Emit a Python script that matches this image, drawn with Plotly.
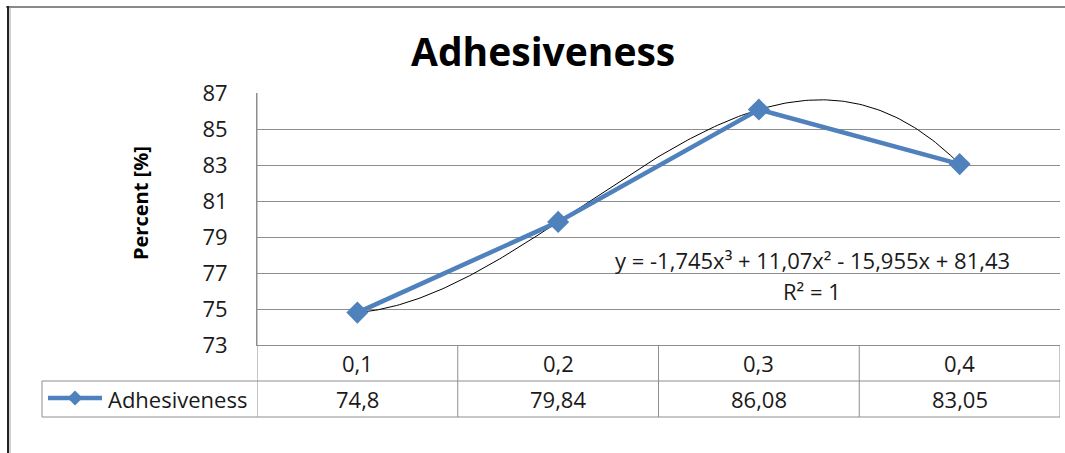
import numpy as np
import plotly.graph_objects as go

categories = ["0,1", "0,2", "0,3", "0,4"]
values = [74.8, 79.84, 86.08, 83.05]
value_labels = ["74,8", "79,84", "86,08", "83,05"]
series_name = "Adhesiveness"
y_ticks = [73, 75, 77, 79, 81, 83, 85, 87]
equation = "y = -1,745x³ + 11,07x² - 15,955x + 81,43"
r2_text = "R² = 1"

W, H = 1065, 453
L, R, T, B = 257, 5, 93, 108
pw, ph = W - L - R, H - T - B

def px_x(p):
    return (p - L) / pw

def px_y(p):
    return (H - B - p) / ph

xpos = list(range(1, len(categories) + 1))
coef = np.polyfit(xpos, values, 3)
xf = np.linspace(1, len(categories), 200)
yf = np.polyval(coef, xf)

BLUE = "#4F81BD"
GRID = "#8E8E8E"
FONT = "Open Sans"
TXT = "#1a1a1a"

fig = go.Figure()
fig.add_trace(go.Scatter(x=xf, y=yf, mode="lines",
                         line=dict(color="black", width=1), showlegend=False,
                         hoverinfo="skip"))
fig.add_trace(go.Scatter(x=xpos, y=values, mode="lines+markers", name=series_name,
                         line=dict(color=BLUE, width=4.5),
                         marker=dict(symbol="diamond", size=17, color=BLUE),
                         showlegend=False))

shapes = []
y_hdr_bot = px_y(381)
y_val_bot = px_y(417)
shapes.append(dict(type="line", xref="paper", yref="paper", x0=px_x(42), x1=1,
                   y0=y_hdr_bot, y1=y_hdr_bot, line=dict(color=GRID, width=1)))
shapes.append(dict(type="line", xref="paper", yref="paper", x0=px_x(42), x1=1,
                   y0=y_val_bot, y1=y_val_bot, line=dict(color=GRID, width=1)))
shapes.append(dict(type="line", xref="paper", yref="paper", x0=px_x(42), x1=px_x(42),
                   y0=y_val_bot, y1=y_hdr_bot, line=dict(color=GRID, width=1)))
for b in [0.5 + i for i in range(len(categories) + 1)]:
    shapes.append(dict(type="line", xref="x", yref="paper", x0=b, x1=b,
                       y0=y_val_bot, y1=0 if b > 0.5 else 1, line=dict(color=GRID, width=1)))
# outer frame
shapes.append(dict(type="line", xref="paper", yref="paper", x0=px_x(6), x1=px_x(1065),
                   y0=px_y(7), y1=px_y(7), line=dict(color="#8A8A8A", width=2)))
shapes.append(dict(type="line", xref="paper", yref="paper", x0=px_x(8), x1=px_x(8),
                   y0=px_y(6), y1=px_y(453), line=dict(color="#222222", width=2)))
shapes.append(dict(type="line", xref="paper", yref="paper", x0=px_x(10), x1=px_x(10),
                   y0=px_y(8), y1=px_y(453), line=dict(color="#A0A0A0", width=1)))
# legend key in table (line + diamond glyph)
ky = 398
shapes.append(dict(type="line", xref="paper", yref="paper", x0=px_x(48), x1=px_x(102),
                   y0=px_y(ky), y1=px_y(ky), line=dict(color=BLUE, width=4.5)))
kx, d = 75, 7.5
shapes.append(dict(type="path", xref="paper", yref="paper",
                   path=(f"M {px_x(kx - d)} {px_y(ky)} L {px_x(kx)} {px_y(ky - d)} "
                         f"L {px_x(kx + d)} {px_y(ky)} L {px_x(kx)} {px_y(ky + d)} Z"),
                   fillcolor=BLUE, line=dict(color=BLUE, width=0)))

def ann(x, y, text, size, xref="paper", xanchor="center", color=TXT, **kw):
    return dict(x=x, y=y, xref=xref, yref="paper", text=text, showarrow=False,
                xanchor=xanchor, yanchor="middle",
                font=dict(family=FONT, size=size, color=color), **kw)

annotations = []
for xi, c, v in zip(xpos, categories, value_labels):
    annotations.append(ann(xi, px_y(363), c, 22, xref="x"))
    annotations.append(ann(xi, px_y(399), v, 22, xref="x"))
annotations.append(ann(px_x(106), px_y(399), series_name, 22, xanchor="left"))
annotations.append(ann(px_x(812), px_y(260), equation, 22))
annotations.append(ann(px_x(812), px_y(291), r2_text, 22))
annotations.append(ann(px_x(140), px_y(203), "<b>Percent [%]</b>", 20, color="black",
                       textangle=-90))
annotations.append(ann(px_x(543), px_y(51), "<b>Adhesiveness</b>", 39, color="black"))

fig.update_layout(
    width=W, height=H,
    margin=dict(l=L, r=R, t=T, b=B),
    paper_bgcolor="white", plot_bgcolor="white",
    showlegend=False,
    xaxis=dict(range=[0.5, len(categories) + 0.5], showgrid=False, zeroline=False,
               showticklabels=False, showline=True, linecolor=GRID, linewidth=1,
               ticks="", fixedrange=True),
    yaxis=dict(range=[73, 87], tickvals=y_ticks, showgrid=True, gridcolor=GRID,
               gridwidth=1, zeroline=False, showline=True, linecolor=GRID, linewidth=1,
               ticks="outside", ticklen=24, tickcolor="rgba(0,0,0,0)",
               tickfont=dict(family=FONT, size=22, color=TXT)),
    shapes=shapes,
    annotations=annotations,
)

fig.write_html("out.html", config={"displayModeBar": False},
               post_script="document.body.style.margin='0';")
